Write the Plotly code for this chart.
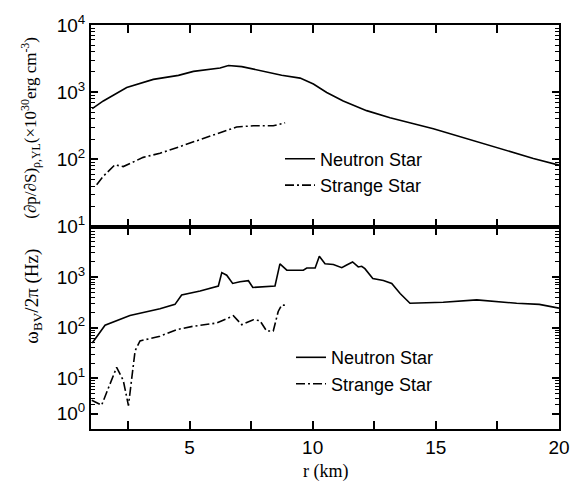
import plotly.graph_objects as go

# ---- data ----
# Upper panel: (dp/dS)_{rho,YL} in 1e30 erg cm^-3
ns_top_r = [1.05, 1.5, 2.45, 3.53, 4.55, 5.16, 6.24, 6.58, 7.12, 7.86, 8.74, 9.49, 10.03,
            10.57, 11.24, 12.19, 13.14, 14.9, 16.25, 17.6, 18.96, 20.0]
ns_top_v = [570, 740, 1170, 1550, 1780, 2040, 2290, 2500, 2400, 2090, 1790, 1620, 1320,
            990, 740, 531, 415, 286, 203, 145, 103, 82]
ss_top_r = [1.23, 1.5, 1.97, 2.31, 3.12, 3.8, 4.61, 5.42, 6.17, 6.91, 7.59, 8.4, 8.88]
ss_top_v = [42, 56, 83, 78, 107, 123, 155, 197, 240, 303, 316, 316, 350]

# Lower panel: omega_BV / 2pi in Hz
ns_bot_r = [1.05, 1.16, 1.57, 2.58, 3.26, 3.8, 4.41, 4.68, 5.43, 6.17, 6.31, 6.51, 6.75,
            7.05, 7.39, 7.57, 8.47, 8.67, 8.95, 9.62, 9.76, 10.1, 10.27, 10.5, 10.84,
            11.18, 11.38, 11.62, 11.85, 11.99, 12.12, 12.44, 12.87, 13.21, 13.55, 13.95,
            15.3, 16.66, 18.28, 19.2, 20.0]
ns_bot_v = [50, 59, 112, 174, 204, 237, 290, 443, 532, 667, 1230, 1090, 750,
            810, 850, 625, 667, 1830, 1370, 1370, 1510, 1510, 2590, 1830, 1770,
            1540, 1740, 1990, 1590, 1640, 1470, 935, 860, 750, 475, 304,
            318, 355, 304, 290, 244]
ss_bot_r = [1.03, 1.43, 2.04, 2.31, 2.52, 2.72, 2.79, 2.99, 3.4, 3.8, 4.48, 5.15, 6.1,
            6.51, 6.78, 7.12, 7.59, 7.86, 8.13, 8.4, 8.6, 8.74, 8.95]
ss_bot_v = [3.7, 2.95, 16.5, 9.1, 2.9, 22, 35, 55, 62, 68, 92, 107, 124,
            149, 173, 115, 144, 138, 86, 86, 210, 282, 275]

x_tickvals = [5, 10, 15, 20]
x_ticktext = ["5", "10", "15", "20"]
x_minorvals = [2.5, 7.5, 12.5, 17.5]
top_tickvals = [10, 100, 1000, 10000]
top_ticktext = ["10<sup>1</sup>", "10<sup>2</sup>", "10<sup>3</sup>", "10<sup>4</sup>"]
bot_tickvals = [2, 10, 100, 1000]
bot_ticktext = ["10<sup>0</sup>", "10<sup>1</sup>", "10<sup>2</sup>", "10<sup>3</sup>"]

labels = ["Neutron Star", "Strange Star"]

SANS = "Liberation Sans"
SERIF = "Liberation Serif"

W, H = 582, 483
L, R, T, B = 91, 23, 20, 54
ph = H - T - B
pw = W - L - R
split = (429 - 224) / ph

fig = go.Figure()
dash_ss = "9px,3px,2px,3px"
fig.add_trace(go.Scatter(x=ns_top_r, y=ns_top_v, mode="lines", name=labels[0], xaxis="x", yaxis="y",
                         line=dict(color="black", width=1.6), legend="legend"))
fig.add_trace(go.Scatter(x=ss_top_r, y=ss_top_v, mode="lines", name=labels[1], xaxis="x", yaxis="y",
                         line=dict(color="black", width=1.6, dash=dash_ss), legend="legend"))
fig.add_trace(go.Scatter(x=ns_bot_r, y=ns_bot_v, mode="lines", name=labels[0], xaxis="x2", yaxis="y2",
                         line=dict(color="black", width=1.6), legend="legend2"))
fig.add_trace(go.Scatter(x=ss_bot_r, y=ss_bot_v, mode="lines", name=labels[1], xaxis="x2", yaxis="y2",
                         line=dict(color="black", width=1.6, dash=dash_ss), legend="legend2"))

tickfont = dict(family=SANS, size=19, color="black")
common_x = dict(range=[1, 20], tickmode="array", tickvals=x_tickvals, ticktext=x_ticktext,
                ticks="inside", ticklen=8, tickwidth=2, tickcolor="black",
                showline=True, linecolor="black", linewidth=2, mirror="ticks",
                showgrid=False, zeroline=False, tickfont=tickfont,
                minor=dict(tickmode="array", tickvals=x_minorvals, ticks="inside", ticklen=8,
                           tickwidth=2, tickcolor="black", showgrid=False))
common_y = dict(type="log", tickmode="array",
                ticks="inside", ticklen=7, tickwidth=2, tickcolor="black",
                showline=True, linecolor="black", linewidth=2, mirror="ticks",
                showgrid=False, zeroline=False, tickfont=tickfont,
                minor=dict(ticks="inside", ticklen=4, tickwidth=1, tickcolor="black",
                           dtick="D1", showgrid=False))

fig.update_layout(
    template="simple_white",
    font=dict(family=SANS, size=18, color="black"),
    xaxis=dict(common_x, domain=[0, 1], anchor="y", showticklabels=False),
    yaxis=dict(common_y, domain=[split, 1], anchor="x", range=[1, 4],
               tickvals=top_tickvals, ticktext=top_ticktext),
    xaxis2=dict(common_x, domain=[0, 1], anchor="y2"),
    yaxis2=dict(common_y, domain=[0, split], anchor="x2", range=[0, 4],
                tickvals=bot_tickvals, ticktext=bot_ticktext),
)

legfont = dict(family=SANS, size=18, color="black")
fig.update_layout(
    width=W, height=H, margin=dict(l=L, r=R, t=T, b=B),
    showlegend=True,
    legend=dict(x=(280 - L) / pw, y=1 - (137 - T) / ph, xanchor="left", yanchor="top",
                font=legfont, tracegroupgap=0),
    legend2=dict(x=(291 - L) / pw, y=1 - (338 - T) / ph, xanchor="left", yanchor="top",
                 font=legfont, tracegroupgap=0),
)

titlefont = dict(family=SERIF, size=17, color="black")
fig.add_annotation(text="(∂p/∂S)<sub>ρ,YL</sub>(×10<sup>30</sup>erg cm<sup>-3</sup>)",
                   xref="paper", yref="paper", x=(31 - L) / pw, y=1 - (124 - T) / ph,
                   textangle=-90, showarrow=False, font=titlefont, xanchor="center", yanchor="middle")
fig.add_annotation(text="ω<sub>BV</sub>/2π (Hz)",
                   xref="paper", yref="paper", x=(33 - L) / pw, y=1 - (295 - T) / ph,
                   textangle=-90, showarrow=False, font=dict(family=SERIF, size=19, color="black"),
                   xanchor="center", yanchor="middle")
fig.add_annotation(text="r (km)", xref="paper", yref="paper", x=0.5, y=1 - (472 - T) / ph,
                   showarrow=False, font=dict(family=SERIF, size=18, color="black"),
                   xanchor="center", yanchor="middle")

fig.write_html("out.html", config={"displayModeBar": False},
               post_script="document.body.style.margin='0';document.body.style.overflow='hidden';")
